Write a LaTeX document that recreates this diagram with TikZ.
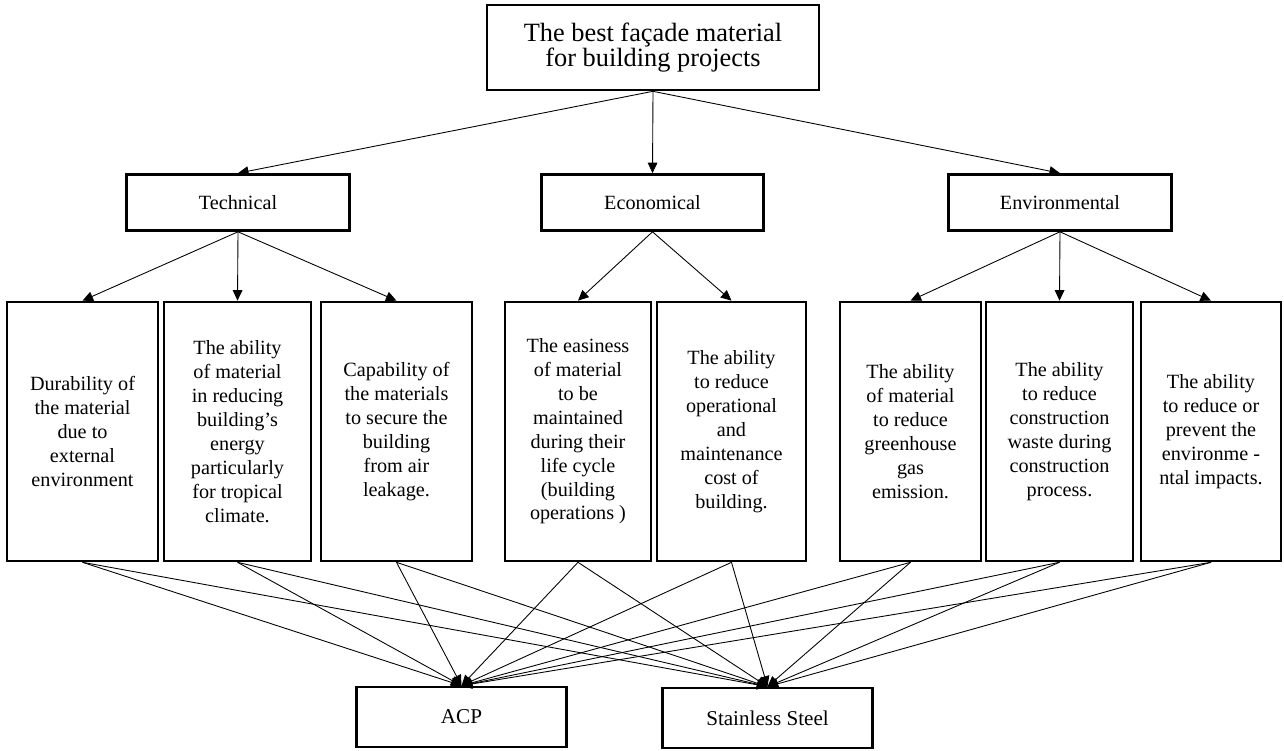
\documentclass[tikz,border=0pt]{standalone}
\usepackage{fontspec}
\setmainfont{Liberation Serif}
\usepackage{tikz}
\usetikzlibrary{arrows.meta, positioning}
\tikzset{
    goal/.style={rectangle, draw, line width=1.5pt, align=center, minimum width=6.64cm, minimum height=1.7cm, font=\fontsize{15}{14.5}\selectfont},
    group/.style={rectangle, draw, line width=1.5pt, align=center, minimum width=4.45cm, minimum height=1.12cm, font=\fontsize{11.5}{13.6}\selectfont},
    crit/.style={rectangle, draw, line width=1.5pt, align=center, minimum height=5.18cm, inner sep=1pt, font=\fontsize{11.5}{13.6}\selectfont},
    alt/.style={rectangle, draw, line width=1.5pt, align=center, minimum width=4.2cm, minimum height=1.2cm, font=\fontsize{12}{14}\selectfont},
    arrow/.style={-{Triangle[length=6pt, width=5.5pt]}, line width=0.5pt},
}
\begin{document}
\begin{tikzpicture}
    \useasboundingbox (0,0) rectangle (25.68,15.02);

    % GOAL
    \node[goal] (goal) at (13.06,14.07) {The best façade material\\for building projects};

    % CRITERIA
    \node[group] (tech) at (4.76,10.97) {Technical};
    \node[group] (econ) at (13.05,10.97) {Economical};
    \node[group] (env) at (21.2,10.97) {Environmental};

    % SUB-CRITERIA
    \node[crit, minimum width=3.02cm] (c1) at (1.65,6.39) {Durability of\\the material\\due to\\external\\environment};
    \node[crit, minimum width=2.94cm] (c2) at (4.75,6.39) {The ability\\of material\\in reducing\\building's\\energy\\particularly\\for tropical\\climate.};
    \node[crit, minimum width=3.02cm] (c3) at (7.93,6.39) {Capability of\\the materials\\to secure the\\building\\from air\\leakage.};
    \node[crit, minimum width=2.92cm] (c4) at (11.56,6.39) {The easiness\\of material\\to be\\maintained\\during their\\life cycle\\(building\\operations )};
    \node[crit, minimum width=2.98cm] (c5) at (14.63,6.39) {The ability\\to reduce\\operational\\and\\maintenance\\cost of\\building.};
    \node[crit, minimum width=2.82cm] (c6) at (18.21,6.39) {The ability\\of material\\to reduce\\greenhouse\\gas\\emission.};
    \node[crit, minimum width=2.94cm] (c7) at (21.19,6.39) {The ability\\to reduce\\construction\\waste during\\construction\\process.};
    \node[crit, minimum width=2.80cm] (c8) at (24.22,6.39) {The ability\\to reduce or\\prevent the\\environme -\\ntal impacts.};

    % ALTERNATIVES
    \node[alt] (acp) at (9.23,0.68) {ACP};
    \node[alt] (steel) at (15.35,0.66) {Stainless Steel};

    % Goal to criteria
    \draw[arrow] (goal.south) -- (tech.north);
    \draw[arrow] (goal.south) -- (econ.north);
    \draw[arrow] (goal.south) -- (env.north);

    % Criteria to sub-criteria
    \draw[arrow] (tech.south) -- (c1.north);
    \draw[arrow] (tech.south) -- (c2.north);
    \draw[arrow] (tech.south) -- (c3.north);
    \draw[arrow] (econ.south) -- (c4.north);
    \draw[arrow] (econ.south) -- (c5.north);
    \draw[arrow] (env.south) -- (c6.north);
    \draw[arrow] (env.south) -- (c7.north);
    \draw[arrow] (env.south) -- (c8.north);

    % Sub-criteria to alternatives
    \draw[arrow] (c1.south) -- (acp.north);
    \draw[arrow] (c1.south) -- (steel.north);
    \draw[arrow] (c2.south) -- (acp.north);
    \draw[arrow] (c2.south) -- (steel.north);
    \draw[arrow] (c3.south) -- (acp.north);
    \draw[arrow] (c3.south) -- (steel.north);
    \draw[arrow] (c4.south) -- (acp.north);
    \draw[arrow] (c4.south) -- (steel.north);
    \draw[arrow] (c5.south) -- (acp.north);
    \draw[arrow] (c5.south) -- (steel.north);
    \draw[arrow] (c6.south) -- (acp.north);
    \draw[arrow] (c6.south) -- (steel.north);
    \draw[arrow] (c7.south) -- (acp.north);
    \draw[arrow] (c7.south) -- (steel.north);
    \draw[arrow] (c8.south) -- (acp.north);
    \draw[arrow] (c8.south) -- (steel.north);

\end{tikzpicture}
\end{document}
